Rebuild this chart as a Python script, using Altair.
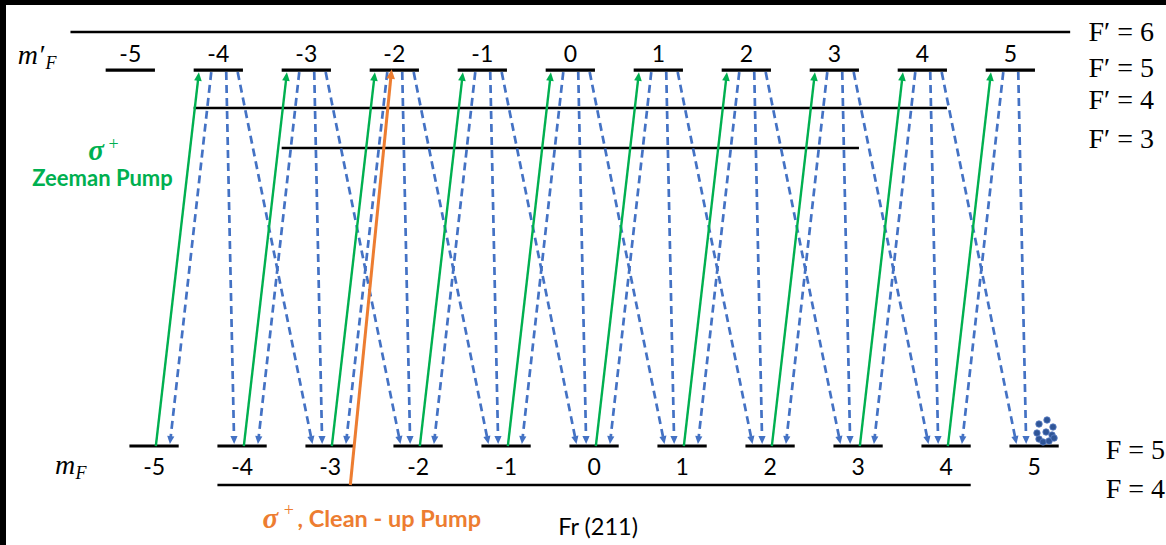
import math
import pandas as pd
import altair as alt

# ---------------- data ----------------
m_upper = [-5, -4, -3, -2, -1, 0, 1, 2, 3, 4, 5]          # m'_F sublevels of F'=5
m_lower = [-5, -4, -3, -2, -1, 0, 1, 2, 3, 4, 5]          # m_F sublevels of F=5
excited_populated = [-4, -3, -2, -1, 0, 1, 2, 3, 4, 5]    # excited sublevels that decay
zeeman_pump_from = [-5, -4, -3, -2, -1, 0, 1, 2, 3, 4]    # sigma+ pump starts (F=5 -> F'=5)
level_names = ["F′ = 6", "F′ = 5", "F′ = 4", "F′ = 3", "F = 5", "F = 4"]
level_energy = [11.615, 10.64, 9.667, 8.641, 1.0, 0.0]     # diagram units
level_label_energy = [11.58, 10.67, 9.85, 8.85, 0.87, -0.13]
line_levels = ["F′ = 6", "F′ = 4", "F′ = 3", "F = 4"]
line_m_min = [-5.4, -4, -3, -4]
line_m_max = [5.4, 4, 3, 4]
cleanup_from_m = -3      # F=4 start
cleanup_to_m = -2        # F'=5 m'_F = -2
atom_x = [5.326, 5.417, 5.485, 5.406, 5.474, 5.326, 5.372, 5.440, 5.303, 5.497]
atom_y = [1.564, 1.667, 1.487, 1.359, 1.282, 1.179, 1.103, 1.128, 1.333, 1.205]

# ---------------- geometry ----------------
W, H = 1160, 540
X_DOM = [-6.4125, 6.769]
Y_DOM = [-1.538, 12.308]
KX = W / (X_DOM[1] - X_DOM[0])
KY = H / (Y_DOM[1] - Y_DOM[0])
SHIFT = 0.27      # lower sublevels drawn shifted right
HALF = 0.28       # half width of a sublevel bar

E = dict(zip(level_names, level_energy))
E_UP, E_LO, E_F4 = E["F′ = 5"], E["F = 5"], E["F = 4"]

GREEN = "#00B050"
BLUE = "#4472C4"
ORANGE = "#ED7D31"
ATOM = "#2F5597"

xs = alt.Scale(domain=X_DOM, nice=False, zero=False)
ys = alt.Scale(domain=Y_DOM, nice=False, zero=False)
X = alt.X("x:Q", scale=xs, axis=None)
Y = alt.Y("y:Q", scale=ys, axis=None)
X2 = alt.X2("x2:Q")
Y2 = alt.Y2("y2:Q")


def arrow(x0, y0, x1, y1, head_len, back):
    dx = (x1 - x0) * KX
    dy = (y1 - y0) * KY
    L = math.hypot(dx, dy)
    ux, uy = dx / L, dy / L
    ang = math.degrees(math.atan2(ux, uy)) % 360
    hx = x1 - (head_len / 2) * ux / KX
    hy = y1 - (head_len / 2) * uy / KY
    ex = x1 - back * ux / KX
    ey = y1 - back * uy / KY
    return dict(x=x0, y=y0, x2=ex, y2=ey), dict(x=hx, y=hy, angle=ang)


# sublevel bars
bars_up = pd.DataFrame({"x": [m - HALF for m in m_upper], "x2": [m + HALF for m in m_upper],
                        "y": [E_UP] * len(m_upper)})
bars_lo = pd.DataFrame({"x": [m + SHIFT - HALF for m in m_lower],
                        "x2": [m + SHIFT + HALF for m in m_lower],
                        "y": [E_LO] * len(m_lower)})
long_rows = []
for name, a, b in zip(line_levels, line_m_min, line_m_max):
    off = SHIFT if name.startswith("F =") else 0.0
    long_rows.append({"x": a + off - HALF, "x2": b + off + HALF, "y": E[name]})
long_df = pd.DataFrame(long_rows)

# spontaneous decay (blue dashed)
start_off = {-1: -0.08, 0: 0.09, 1: 0.22}
end_off = {-1: 0.18, 0: -0.09, 1: -0.20}
dec_lines, dec_heads = [], []
for u in excited_populated:
    for d in (-1, 0, 1):
        lo = u + d
        if lo not in m_lower:
            continue
        ln, hd = arrow(u + start_off[d], E_UP - 2 / KY,
                       lo + SHIFT + end_off[d], E_LO + 2 / KY, 8, 5)
        dec_lines.append(ln)
        dec_heads.append(hd)
dec_lines = pd.DataFrame(dec_lines)
dec_heads = pd.DataFrame(dec_heads)

# Zeeman pump (green)
zp_lines, zp_heads = [], []
for m in zeeman_pump_from:
    ln, hd = arrow(m + SHIFT + 0.02, E_LO, m + 1 - 0.22, E_UP - 2 / KY, 9, 6)
    zp_lines.append(ln)
    zp_heads.append(hd)
zp_lines = pd.DataFrame(zp_lines)
zp_heads = pd.DataFrame(zp_heads)

# clean-up pump (orange)
ln, hd = arrow(cleanup_from_m + SHIFT + 0.23, E_F4, cleanup_to_m - 0.03, E_UP + 1 / KY, 10, 7)
cu_line = pd.DataFrame([ln])
cu_head = pd.DataFrame([hd])

HEAD = "M0,-1L0.9,1L-0.9,1Z"

layers = []
layers.append(alt.Chart(long_df).mark_rule(color="black", strokeWidth=2.6)
              .encode(x=X, x2=X2, y=Y))
layers.append(alt.Chart(bars_up).mark_rule(color="black", strokeWidth=3.2)
              .encode(x=X, x2=X2, y=Y))
layers.append(alt.Chart(bars_lo).mark_rule(color="black", strokeWidth=3.2)
              .encode(x=X, x2=X2, y=Y))
layers.append(alt.Chart(dec_lines).mark_rule(color=BLUE, strokeWidth=2.7, strokeDash=[8, 5],
                                             strokeCap="butt")
              .encode(x=X, x2=X2, y=Y, y2=Y2))
layers.append(alt.Chart(dec_heads).mark_point(shape=HEAD, filled=True, color=BLUE, size=64, opacity=1)
              .encode(x=X, y=Y, angle=alt.Angle("angle:Q", scale=None)))
layers.append(alt.Chart(zp_lines).mark_rule(color=GREEN, strokeWidth=2.4)
              .encode(x=X, x2=X2, y=Y, y2=Y2))
layers.append(alt.Chart(zp_heads).mark_point(shape=HEAD, filled=True, color=GREEN, size=72, opacity=1)
              .encode(x=X, y=Y, angle=alt.Angle("angle:Q", scale=None)))
layers.append(alt.Chart(cu_line).mark_rule(color=ORANGE, strokeWidth=3)
              .encode(x=X, x2=X2, y=Y, y2=Y2))
layers.append(alt.Chart(cu_head).mark_point(shape=HEAD, filled=True, color=ORANGE, size=90, opacity=1)
              .encode(x=X, y=Y, angle=alt.Angle("angle:Q", scale=None)))

# atoms
atoms = pd.DataFrame({"x": atom_x, "y": atom_y})
layers.append(alt.Chart(atoms).mark_point(shape="circle", filled=True, color=ATOM, size=42,
                                          opacity=1, stroke="#5A7EC4", strokeWidth=0.8)
              .encode(x=X, y=Y))

# sublevel number labels
SANS = "Lato"
SERIF = "Liberation Serif"
up_lab = pd.DataFrame({"x": m_upper, "y": [E_UP + 0.39] * len(m_upper),
                       "t": [str(m) for m in m_upper]})
lo_lab = pd.DataFrame({"x": [m + SHIFT for m in m_lower], "y": [E_LO - 0.56] * len(m_lower),
                       "t": [str(m) for m in m_lower]})
for df in (up_lab, lo_lab):
    layers.append(alt.Chart(df).mark_text(font=SANS, fontSize=23, color="black", baseline="middle")
                  .encode(x=X, y=Y, text="t:N"))

# hyperfine level labels
fp = pd.DataFrame({"x": [6.633] * 4, "y": level_label_energy[:4], "t": level_names[:4]})
fl = pd.DataFrame({"x": [6.758] * 2, "y": level_label_energy[4:], "t": level_names[4:]})
for df in (fp, fl):
    layers.append(alt.Chart(df).mark_text(font=SERIF, fontSize=28, color="black",
                                          align="right", baseline="middle")
                  .encode(x=X, y=Y, text="t:N"))


def txt(t, x, y, **kw):
    df = pd.DataFrame({"x": [x], "y": [y], "t": [t]})
    return alt.Chart(df).mark_text(baseline="middle", **kw).encode(x=X, y=Y, text="t:N")


layers += [
    txt("m′", -6.128, 11.0, font=SERIF, fontStyle="italic", fontSize=28, color="black"),
    txt("F", -5.90, 10.80, font=SERIF, fontStyle="italic", fontSize=18, color="black"),
    txt("m", -5.742, 0.49, font=SERIF, fontStyle="italic", fontSize=28, color="black"),
    txt("F", -5.56, 0.27, font=SERIF, fontStyle="italic", fontSize=18, color="black"),
    txt("σ", -5.39, 8.56, font=SERIF, fontStyle="italic", fontWeight="bold", fontSize=29, color=GREEN),
    txt("+", -5.19, 8.72, font=SERIF, fontSize=18, color=GREEN),
    txt("Zeeman Pump", -5.316, 7.846, font=SANS, fontWeight="bold", fontSize=22, color=GREEN),
    txt("σ", -3.41, -0.87, font=SERIF, fontStyle="italic", fontWeight="bold", fontSize=29, color=ORANGE),
    txt("+", -3.20, -0.66, font=SERIF, fontSize=18, color=ORANGE),
    txt(", Clean - up Pump", -3.10, -0.897, font=SANS, fontWeight="bold", fontSize=23.5,
        color=ORANGE, align="left"),
    txt("Fr (211)", 0.315, -1.09, font=SANS, fontSize=23.5, color="black"),
]

chart = alt.layer(*layers).properties(
    width=W, height=H, background="black",
    padding={"left": 6, "top": 5, "right": 0, "bottom": 0},
    autosize=alt.AutoSizeParams(type="none"),
).configure_view(fill="white", stroke=None)

chart.save("out.html", embed_options={"renderer": "svg", "actions": False})
